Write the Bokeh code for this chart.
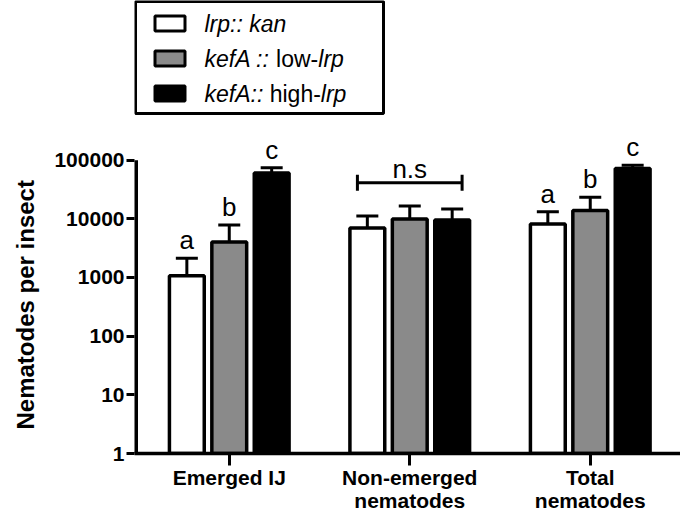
from bokeh.plotting import figure
from bokeh.models import (Range1d, FixedTicker, Whisker, TeeHead, Label,
                          BoxAnnotation, ColumnDataSource, Title)
from bokeh.transform import dodge
from bokeh.embed import file_html
from bokeh.resources import INLINE

# ---------------- data ----------------
categories = ["Emerged IJ", "Non-emerged\nnematodes", "Total\nnematodes"]
series_names = ["lrp:: kan", "kefA :: low-lrp", "kefA:: high-lrp"]
lrp_kan = [1070, 6980, 8160]
lrp_kan_err = [2130, 11160, 13200]
low_lrp = [4030, 9930, 13840]
low_lrp_err = [7840, 16500, 23200]
high_lrp = [60100, 9540, 71700]
high_lrp_err = [74000, 14680, 82200]
letters_kan = ["a", "", "a"]
letters_low = ["b", "", "b"]
letters_high = ["c", "", "c"]
ns_text = "n.s"
ns_level = 41100
y_ticks = [1, 10, 100, 1000, 10000, 100000]
y_tick_labels = ["1", "10", "100", "1000", "10000", "100000"]

FONT = "Liberation Sans"
idx = list(range(len(categories)))

# layout constants (pixels)
W, H = 680, 514
LEFT, BOTTOM = 133, 60
PX_PER_DECADE = 58.8
frame_h = H - BOTTOM
x_start, x_end = -0.525, 2.5
y_top = 10 ** (frame_h / PX_PER_DECADE)

p = figure(width=W, height=H, y_axis_type="log",
           x_range=Range1d(x_start, x_end), y_range=Range1d(1, y_top),
           output_backend="svg", toolbar_location=None,
           min_border_left=LEFT, min_border_top=0,
           min_border_right=0, min_border_bottom=BOTTOM)
p.outline_line_color = None
p.xgrid.grid_line_color = None
p.ygrid.grid_line_color = None
p.background_fill_color = "white"

offsets = [-0.235, 0.0, 0.235]
fills = ["white", "#8a8a8a", "black"]
vals = [lrp_kan, low_lrp, high_lrp]
errs = [lrp_kan_err, low_lrp_err, high_lrp_err]
letters = [letters_kan, letters_low, letters_high]

# y-axis spine limited to the tick span (half of it clipped by the frame edge)
p.segment(x0=x_start, y0=y_ticks[0], x1=x_start, y1=y_ticks[-1],
          line_width=7, line_color="black")

for off, fill, v, e, lt in zip(offsets, fills, vals, errs, letters):
    src = ColumnDataSource(dict(x=idx, top=v, err=e,
                                xd=[i + off for i in idx]))
    p.add_layout(Whisker(source=src, base="xd", lower="top", upper="err",
                         line_width=3, line_color="black",
                         upper_head=TeeHead(size=22, line_width=3, line_color="black"),
                         lower_head=None))
    p.vbar(x=dodge("x", off, range=p.x_range), top="top", bottom=1,
           width=0.193, source=src, fill_color=fill,
           line_color="black", line_width=3.5)
    for i in idx:
        if lt[i]:
            p.add_layout(Label(x=i + off, y=e[i], text=lt[i], y_offset=18,
                               text_align="center", text_baseline="alphabetic",
                               text_font=FONT, text_font_size="26px",
                               text_color="black"))

# n.s bracket over middle group
p.add_layout(Whisker(base=ns_level, lower=1 - 0.29, upper=1 + 0.29,
                     dimension="width", line_width=3, line_color="black",
                     lower_head=TeeHead(size=16, line_width=3, line_color="black"),
                     upper_head=TeeHead(size=16, line_width=3, line_color="black")))
p.add_layout(Label(x=1, y=ns_level, text=ns_text, y_offset=14,
                   text_align="center", text_baseline="alphabetic",
                   text_font=FONT, text_font_size="26px", text_color="black"))

# axes
p.xaxis.ticker = FixedTicker(ticks=idx, minor_ticks=[])
p.xaxis.major_label_overrides = {i: c for i, c in zip(idx, categories)}
p.xaxis.axis_line_width = 3.5
p.xaxis.major_tick_line_width = 3
p.xaxis.major_tick_out = 12
p.xaxis.major_tick_in = 0
p.xaxis.major_label_standoff = 0
p.xaxis.axis_label_standoff = 0
p.xaxis.major_label_text_font = FONT
p.xaxis.major_label_text_font_style = "bold"
p.xaxis.major_label_text_font_size = "21px"
p.xaxis.major_label_text_line_height = 1.0
p.xaxis.major_label_text_color = "black"

p.yaxis.ticker = FixedTicker(ticks=y_ticks, minor_ticks=[])
p.yaxis.major_label_overrides = {t: l for t, l in zip(y_ticks, y_tick_labels)}
p.yaxis.axis_line_color = None
p.yaxis.major_tick_line_width = 3
p.yaxis.major_tick_out = 8
p.yaxis.major_tick_in = 0
p.yaxis.minor_tick_line_color = None
p.yaxis.major_label_standoff = 2
p.yaxis.major_label_text_font = FONT
p.yaxis.major_label_text_font_style = "bold"
p.yaxis.major_label_text_font_size = "21px"
p.yaxis.major_label_text_color = "black"

# y-axis title, starting just above the bottom of the tick span
p.add_layout(Title(text="Nematodes per insect", align="left", offset=24,
                   vertical_align="top",
                   text_font=FONT, text_font_style="bold",
                   text_font_size="24px", text_color="black", standoff=22), "left")

# legend (screen units, relative to the plot frame)
p.add_layout(BoxAnnotation(left=1, right=249, top=frame_h - 2, bottom=frame_h - 114,
                           left_units="screen", right_units="screen",
                           top_units="screen", bottom_units="screen",
                           fill_color="white", fill_alpha=1,
                           line_color="black", line_alpha=1, line_width=3,
                           level="overlay"))
row_tops = [16.5, 51.5, 86.5]
for rt, fill in zip(row_tops, fills):
    p.add_layout(BoxAnnotation(left=20.5, right=50.5, top=frame_h - rt,
                               bottom=frame_h - rt - 15,
                               left_units="screen", right_units="screen",
                               top_units="screen", bottom_units="screen",
                               fill_color=fill, fill_alpha=1,
                               line_color="black", line_alpha=1, line_width=3,
                               level="overlay"))

row_y = [24, 59, 94]
pieces = [
    [("lrp:: kan", "italic", 0)],
    [("kefA ::", "italic", 0), ("low-", "normal", 71.6), ("lrp", "italic", 113.8)],
    [("kefA::", "italic", 0), ("high-", "normal", 65.2), ("lrp", "italic", 116.3)],
]
for y, row in zip(row_y, pieces):
    for txt, style, dx in row:
        p.add_layout(Label(x=70 + dx, y=frame_h - y, x_units="screen", y_units="screen",
                           text=txt, text_font=FONT, text_font_style=style,
                           text_font_size="23px", text_baseline="middle",
                           text_align="left", text_color="black", level="overlay"))

open("out.html", "w").write(file_html(p, INLINE))
